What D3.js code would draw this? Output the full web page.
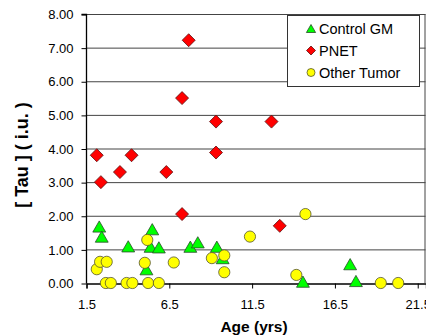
<!DOCTYPE html>
<html>
<head>
  <meta charset="utf-8">
  <title>Tau vs Age</title>
  <script src="https://cdnjs.cloudflare.com/ajax/libs/d3/7.8.5/d3.min.js"></script>
  <style>
    html, body { margin: 0; padding: 0; background: #fff; }
    svg { display: block; font-family: "Liberation Sans", Arial, sans-serif; }
  </style>
</head>
<body>
  <svg id="chart" width="426" height="335"></svg>
  <script>
    // series (age in years, tau in i.u.)
    let gmAge  = [2.3, 2.45, 4.05, 5.5, 5.4, 5.9, 5.15, 7.8, 8.25, 9.4, 9.75, 14.6, 17.45, 17.8]
    let gmTau  = [1.68, 1.38, 1.09, 1.6, 1.08, 1.06, 0.41, 1.08, 1.21, 1.08, 0.74, 0.04, 0.56, 0.06]

    let pnetAge = [2.15, 2.4, 3.55, 4.25, 6.35, 7.3, 7.3, 7.7, 9.35, 9.35, 12.7, 13.2]
    let pnetTau = [3.8, 3.0, 3.3, 3.8, 3.3, 2.05, 5.5, 7.22, 4.8, 3.88, 4.8, 1.7]

    let otherAge = [2.15, 2.35, 2.75, 2.7, 3.0, 3.95, 4.3, 5.25, 5.9, 5.2, 5.05, 6.8, 9.1, 9.85, 9.85, 11.4, 14.75, 14.2, 19.3, 20.35]
    let otherTau = [0.41, 0.63, 0.63, 0, 0, 0, 0, 0, 0, 1.28, 0.6, 0.61, 0.74, 0.82, 0.32, 1.38, 2.05, 0.24, 0, 0]

    let xTicks = [1.5, 6.5, 11.5, 16.5, 21.5]
    let yTicks = [0, 1, 2, 3, 4, 5, 6, 7, 8]
    let seriesNames = ['Control GM', 'PNET', 'Other Tumor']

    const svg = d3.select('#chart')
    const mLeft = 86, mRight = 425.5, mTop = 14, mBottom = 283

    const x = d3.scaleLinear().domain([1.5, 22]).range([mLeft, mRight])
    const y = d3.scaleLinear().domain([0, 8]).range([mBottom, mTop])

    // gridlines
    svg.append('g')
      .selectAll('line')
      .data(yTicks.filter(d => d > 0))
      .join('line')
      .attr('x1', mLeft).attr('x2', mRight)
      .attr('y1', d => y(d) + 0.5).attr('y2', d => y(d) + 0.5)
      .attr('stroke', '#444')

    // right border of plot area
    svg.append('line')
      .attr('x1', mRight - 0.5).attr('x2', mRight - 0.5)
      .attr('y1', mTop).attr('y2', mBottom)
      .attr('stroke', '#444')

    // axes
    const yAxis = svg.append('g')
      .attr('transform', `translate(${mLeft + 0.5},0.5)`)
      .call(d3.axisLeft(y).tickValues(yTicks).tickFormat(d3.format('.2f')).tickSize(5).tickPadding(8))
    const xAxis = svg.append('g')
      .attr('transform', `translate(0.5,${mBottom + 0.5})`)
      .call(d3.axisBottom(x).tickValues(xTicks).tickFormat(d3.format('.1f')).tickSize(5).tickPadding(11))

    for (const ax of [xAxis, yAxis]) {
      ax.select('.domain').attr('stroke', '#000').attr('stroke-width', 1.3)
      ax.selectAll('.tick line').attr('stroke', '#000')
      ax.selectAll('.tick text').attr('font-size', 13).attr('fill', '#000')
        .attr('font-family', '"Liberation Sans", Arial, sans-serif')
    }
    yAxis.select('.domain').attr('d', `M-5,${mTop}H0V${mBottom}`)

    // axis titles
    svg.append('text')
      .attr('x', 254).attr('y', 332)
      .attr('text-anchor', 'middle')
      .attr('font-size', 15.5).attr('font-weight', 'bold')
      .text('Age (yrs)')
    svg.append('text')
      .attr('transform', 'translate(28,155) rotate(-90)')
      .attr('text-anchor', 'middle')
      .attr('font-size', 18).attr('font-weight', 'bold')
      .text('[ Tau ] ( i.u. )')

    // marker shapes
    const tri = s => `M0,${-s}L${s * 1.15},${s}L${-s * 1.15},${s}Z`
    const diamond = s => `M0,${-s}L${s},0L0,${s}L${-s},0Z`

    const gm = d3.zip(gmAge, gmTau)
    const pnet = d3.zip(pnetAge, pnetTau)
    const other = d3.zip(otherAge, otherTau)

    svg.append('g').selectAll('path')
      .data(gm).join('path')
      .attr('transform', d => `translate(${x(d[0])},${y(d[1])})`)
      .attr('d', tri(5.6))
      .attr('fill', '#00ff00').attr('stroke', '#2a4a2a').attr('stroke-width', 0.8)

    svg.append('g').selectAll('path')
      .data(pnet).join('path')
      .attr('transform', d => `translate(${x(d[0])},${y(d[1])})`)
      .attr('d', diamond(6.5))
      .attr('fill', '#ff0000').attr('stroke', '#5a1010').attr('stroke-width', 0.8)

    svg.append('g').selectAll('circle')
      .data(other).join('circle')
      .attr('cx', d => x(d[0])).attr('cy', d => y(d[1]))
      .attr('r', 5.6)
      .attr('fill', '#ffff00').attr('stroke', '#555530').attr('stroke-width', 0.8)

    // legend
    const lg = svg.append('g').attr('transform', 'translate(287,15)')
    lg.append('rect')
      .attr('x', 0.5).attr('y', 0.5).attr('width', 132).attr('height', 71)
      .attr('fill', '#fff').attr('stroke', '#333')

    const items = lg.selectAll('g.item')
      .data(seriesNames).join('g')
      .attr('class', 'item')
      .attr('transform', (d, i) => `translate(24,${13.5 + i * 22})`)
    items.filter((d, i) => i === 0).append('path')
      .attr('d', tri(4)).attr('fill', '#00ff00').attr('stroke', '#2a4a2a').attr('stroke-width', 0.8)
    items.filter((d, i) => i === 1).append('path')
      .attr('d', diamond(4.5)).attr('fill', '#ff0000').attr('stroke', '#5a1010').attr('stroke-width', 0.8)
    items.filter((d, i) => i === 2).append('circle')
      .attr('r', 4).attr('fill', '#ffff00').attr('stroke', '#555530').attr('stroke-width', 0.8)
    items.append('text')
      .attr('x', 8).attr('dy', '0.36em')
      .attr('font-size', 14.5)
      .text(d => d)
  </script>
</body>
</html>
